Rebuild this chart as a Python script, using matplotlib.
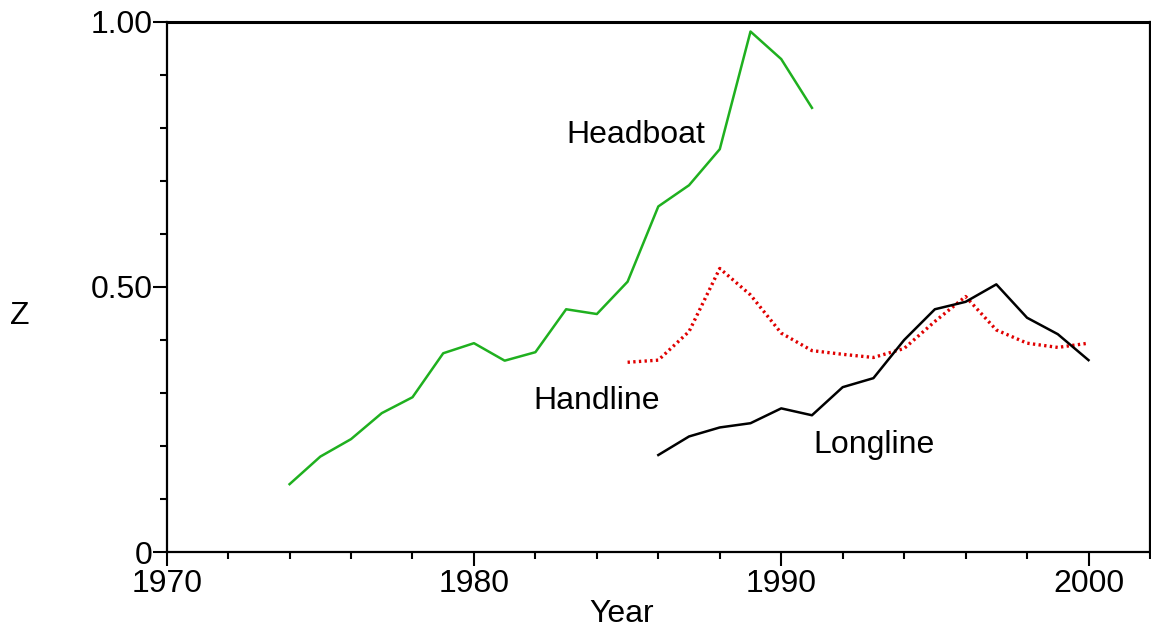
import matplotlib
matplotlib.use("Agg")
import matplotlib.pyplot as plt
from matplotlib.ticker import MultipleLocator, FixedLocator, FixedFormatter

plt.rcParams["font.family"] = ["Liberation Sans", "DejaVu Sans"]

# Headboat (green, solid)
head_years = list(range(1974, 1992))
head_z = [0.128, 0.180, 0.213, 0.262, 0.292, 0.375, 0.394, 0.361, 0.377,
          0.458, 0.449, 0.510, 0.652, 0.692, 0.760, 0.982, 0.930, 0.838]

# Handline (red, dotted)
hand_years = list(range(1985, 2001))
hand_z = [0.358, 0.362, 0.416, 0.535, 0.485, 0.413, 0.380, 0.373, 0.367,
          0.384, 0.435, 0.482, 0.419, 0.394, 0.386, 0.394]

# Longline (black, solid)
long_years = list(range(1986, 2001))
long_z = [0.183, 0.218, 0.235, 0.243, 0.271, 0.258, 0.311, 0.328, 0.400,
          0.458, 0.472, 0.505, 0.442, 0.411, 0.362]

fig = plt.figure(figsize=(11.51, 6.30), dpi=100)
ax = fig.add_axes([0.1448, 0.1238, 0.9991 - 0.1448, 0.9651 - 0.1238])

ax.plot(head_years, head_z, color="#1fb01f", lw=1.8)
ax.plot(hand_years, hand_z, color="#e00000", lw=2.4, linestyle=(0, (0.7, 1.0)))
ax.plot(long_years, long_z, color="black", lw=1.8)

ax.text(1985.26, 0.787, "Headboat", fontsize=23, ha="center", va="center")
ax.text(1983.99, 0.285, "Handline", fontsize=23, ha="center", va="center")
ax.text(1993.03, 0.202, "Longline", fontsize=23, ha="center", va="center")

ax.set_xlim(1970, 2002)
ax.set_ylim(0, 1.0)

ax.xaxis.set_major_locator(FixedLocator([1970, 1980, 1990, 2000]))
ax.xaxis.set_minor_locator(MultipleLocator(2))
ax.yaxis.set_major_locator(FixedLocator([0, 0.5, 1.0]))
ax.yaxis.set_major_formatter(FixedFormatter(["0", "0.50", "1.00"]))
ax.yaxis.set_minor_locator(MultipleLocator(0.1))

ax.tick_params(which="major", length=10, width=1.5, labelsize=23, direction="out")
ax.tick_params(which="minor", length=5, width=1.5, direction="out")
ax.tick_params(axis="y", which="major", pad=0)
ax.tick_params(axis="x", which="major", pad=2)

for s in ax.spines.values():
    s.set_linewidth(1.6)
ax.spines["top"].set_linewidth(2.2)

fig.text(20 / 1151, 1 - 316 / 630, "Z", fontsize=23, ha="center", va="center")
fig.text(622 / 1151, 1 - 614 / 630, "Year", fontsize=23, ha="center", va="center")

fig.savefig("out.png", dpi=100)
